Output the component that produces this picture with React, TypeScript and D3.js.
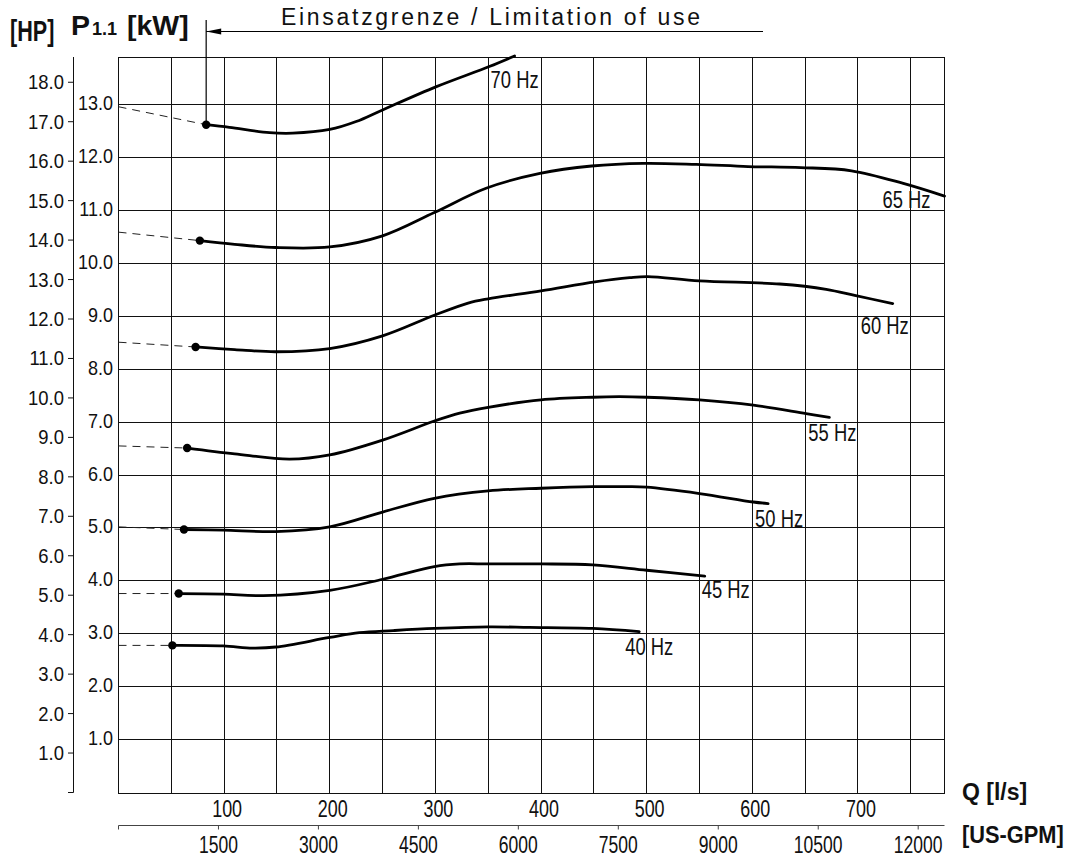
import React from 'react';
import * as d3 from 'd3';

const W = 1078;
const H = 857;

// Leistungskurven P1.1 [kW] über Q [l/s], je Frequenz
const curve70 = [[83, 12.62], [105, 12.57], [143, 12.47], [165, 12.46], [200, 12.53], [225, 12.68], [250, 12.9], [301, 13.34], [351, 13.72], [375, 13.92]];
const curve65 = [[77, 10.43], [110, 10.36], [149, 10.3], [200, 10.31], [250, 10.52], [299, 10.96], [348, 11.42], [399, 11.7], [448, 11.84], [497, 11.89], [547, 11.87], [596, 11.83], [646, 11.81], [694, 11.75], [743, 11.51], [782, 11.27]];
const curve60 = [[73, 8.42], [110, 8.37], [149, 8.33], [200, 8.39], [250, 8.63], [299, 9.02], [331, 9.25], [350, 9.33], [400, 9.48], [451, 9.65], [484, 9.73], [501, 9.75], [550, 9.67], [626, 9.61], [670, 9.51], [698, 9.39], [733, 9.24]];
const curve55 = [[65, 6.51], [110, 6.4], [162, 6.3], [200, 6.38], [250, 6.66], [299, 7.02], [323, 7.17], [350, 7.28], [400, 7.42], [449, 7.47], [474, 7.48], [500, 7.47], [550, 7.42], [601, 7.32], [651, 7.16], [673, 7.09]];
const curve50 = [[62, 4.97], [99, 4.96], [149, 4.93], [200, 5.02], [250, 5.3], [299, 5.56], [350, 5.7], [400, 5.75], [449, 5.78], [481, 5.78], [500, 5.77], [550, 5.65], [601, 5.49], [615, 5.46]];
const curve45 = [[57, 3.76], [99, 3.75], [137, 3.72], [200, 3.82], [250, 4.03], [299, 4.27], [323, 4.32], [350, 4.32], [400, 4.32], [449, 4.3], [500, 4.2], [555, 4.09]];
const curve40 = [[51, 2.78], [99, 2.77], [127, 2.73], [149, 2.75], [200, 2.93], [228, 3.02], [260, 3.06], [299, 3.1], [350, 3.13], [389, 3.12], [449, 3.1], [493, 3.04]];

const curves = [curve70, curve65, curve60, curve55, curve50, curve45, curve40];
const freqLabels = ['70 Hz', '65 Hz', '60 Hz', '55 Hz', '50 Hz', '45 Hz', '40 Hz'];
// gestrichelte Verlängerung bis Q = 0
const startKw = [12.96, 10.59, 8.51, 6.55, 5.02, 3.76, 2.78];

const qTicks = [100, 200, 300, 400, 500, 600, 700];
const gpmTicks = [1500, 3000, 4500, 6000, 7500, 9000, 10500, 12000];
const kwTicks = [1, 2, 3, 4, 5, 6, 7, 8, 9, 10, 11, 12, 13];
const hpTicks = [1, 2, 3, 4, 5, 6, 7, 8, 9, 10, 11, 12, 13, 14, 15, 16, 17, 18];

const Q_MAX = 782;
const KW_MAX = 13.9;
const LS_TO_GPM = 15.8503;
const HP_TO_KW = 0.7457;

const SANS = '"Liberation Sans", Arial, sans-serif';

// Lage der Hz-Beschriftung relativ zum Kurvenende
const labelNudge = [[-24, 32], [-62, 12], [-32, 30.5], [-21, 24], [-13, 23.5], [-3, 22], [-14, 23.5]];

// schmal laufende Schrift (Arial Narrow nachgebildet)
const T = ({ x, y, size, sx = 0.82, anchor = 'start', bold = false, children }) => (
  <text
    transform={`translate(${x},${y}) scale(${sx},1)`}
    fontFamily={SANS}
    fontSize={size}
    fontWeight={bold ? 'bold' : 'normal'}
    textAnchor={anchor}
    fill="#111"
  >
    {children}
  </text>
);

const App = () => {
  const x = d3.scaleLinear().domain([0, Q_MAX]).range([118.5, 944.5]);
  const y = d3.scaleLinear().domain([0, KW_MAX]).range([792.5, 57]);
  const xg = d3.scaleLinear().domain([0, Q_MAX * LS_TO_GPM]).range([118.5, 944.5]);
  const yh = (hp) => y(hp * HP_TO_KW);

  const line = d3
    .line()
    .x((d) => x(d[0]))
    .y((d) => y(d[1]))
    .curve(d3.curveCatmullRom.alpha(0.5));

  const crisp = (v) => Math.round(v - 0.5) + 0.5;
  const left = x(0);
  const right = x(Q_MAX);
  const top = y(KW_MAX);
  const bottom = y(0);

  const vGrid = d3.range(50, Q_MAX, 50);
  const limit = curve70[0];

  return (
    <svg width={W} height={H} style={{ position: 'absolute', left: 0, top: 0, background: '#fff' }}>
      <rect width={W} height={H} fill="#fff" />

      {/* Raster */}
      <g stroke="#111" strokeWidth={1} shapeRendering="crispEdges">
        {vGrid.map((v) => (
          <line key={'v' + v} x1={crisp(x(v))} x2={crisp(x(v))} y1={top} y2={bottom} />
        ))}
        {kwTicks.map((v) => (
          <line key={'h' + v} x1={left} x2={right} y1={crisp(y(v))} y2={crisp(y(v))} />
        ))}
        <rect x={crisp(left)} y={crisp(top)} width={Math.round(right - left)} height={Math.round(bottom - top)} fill="none" />
      </g>

      {/* kW Beschriftung */}
      {kwTicks.map((v) => (
        <T key={'kw' + v} x={113} y={y(v) + 5.5} size={20} sx={0.9} anchor="end">{v.toFixed(1)}</T>
      ))}

      {/* HP Achse */}
      <line x1={73.5} x2={73.5} y1={top} y2={bottom} stroke="#111" strokeWidth={1} />
      <g stroke="#111" strokeWidth={1}>
        {[0, ...hpTicks].map((v) => (
          <line key={'ht' + v} x1={68} x2={73.5} y1={yh(v)} y2={yh(v)} />
        ))}
      </g>
      {hpTicks.map((v) => (
        <T key={'hp' + v} x={64} y={yh(v) + 7} size={20.5} sx={0.9} anchor="end">{v.toFixed(1)}</T>
      ))}

      {/* Q Achse */}
      {qTicks.map((v) => (
        <T key={'q' + v} x={x(v) + 3} y={817} size={23} sx={0.78} anchor="middle">{v}</T>
      ))}

      {/* US-GPM Achse */}
      <line x1={left} x2={right} y1={825.5} y2={825.5} stroke="#444" strokeWidth={1} />
      <g stroke="#444" strokeWidth={1}>
        {[0, ...gpmTicks].map((v) => (
          <line key={'gt' + v} x1={xg(v)} x2={xg(v)} y1={825.5} y2={829.5} />
        ))}
      </g>
      {gpmTicks.map((v) => (
        <T key={'g' + v} x={xg(v)} y={852.5} size={24} sx={0.73} anchor="middle">{v}</T>
      ))}

      {/* Kurven */}
      {curves.map((c, i) => (
        <g key={'c' + i}>
          <line
            x1={x(0)}
            y1={y(startKw[i])}
            x2={x(c[0][0])}
            y2={y(c[0][1])}
            stroke="#222"
            strokeWidth={1}
            strokeDasharray="8 6"
          />
          <path d={line(c)} fill="none" stroke="#000" strokeWidth={2.8} strokeLinecap="round" />
          <circle cx={x(c[0][0])} cy={y(c[0][1])} r={4.2} fill="#000" />
          <T
            x={x(c[c.length - 1][0]) + labelNudge[i][0]}
            y={y(c[c.length - 1][1]) + labelNudge[i][1]}
            size={23}
            sx={0.8}
          >
            {freqLabels[i]}
          </T>
        </g>
      ))}

      {/* Einsatzgrenze */}
      <line x1={x(limit[0])} x2={x(limit[0])} y1={20} y2={y(limit[1])} stroke="#000" strokeWidth={1.2} />
      <line x1={x(limit[0])} x2={763} y1={31.5} y2={31.5} stroke="#000" strokeWidth={1.2} />
      <polygon
        points={`${x(limit[0])},31.5 ${x(limit[0]) + 15},28.5 ${x(limit[0]) + 15},34.5`}
        fill="#000"
      />
      <text x={281} y={25} fontFamily={SANS} fontSize={23} fill="#111" textLength={419} lengthAdjust="spacing">
        Einsatzgrenze / Limitation of use
      </text>

      {/* Achsentitel */}
      <T x={10} y={41} size={30} sx={0.72} bold>[HP]</T>
      <T x={71} y={34.5} size={28.5} sx={1} bold>
        P<tspan fontSize={18} dx={2}>1.1</tspan><tspan dx={2}> [kW]</tspan>
      </T>
      <T x={962} y={800} size={24.5} sx={0.94} bold>Q [l/s]</T>
      <T x={962} y={843} size={24.5} sx={0.89} bold>[US-GPM]</T>
    </svg>
  );
};

export default App;
